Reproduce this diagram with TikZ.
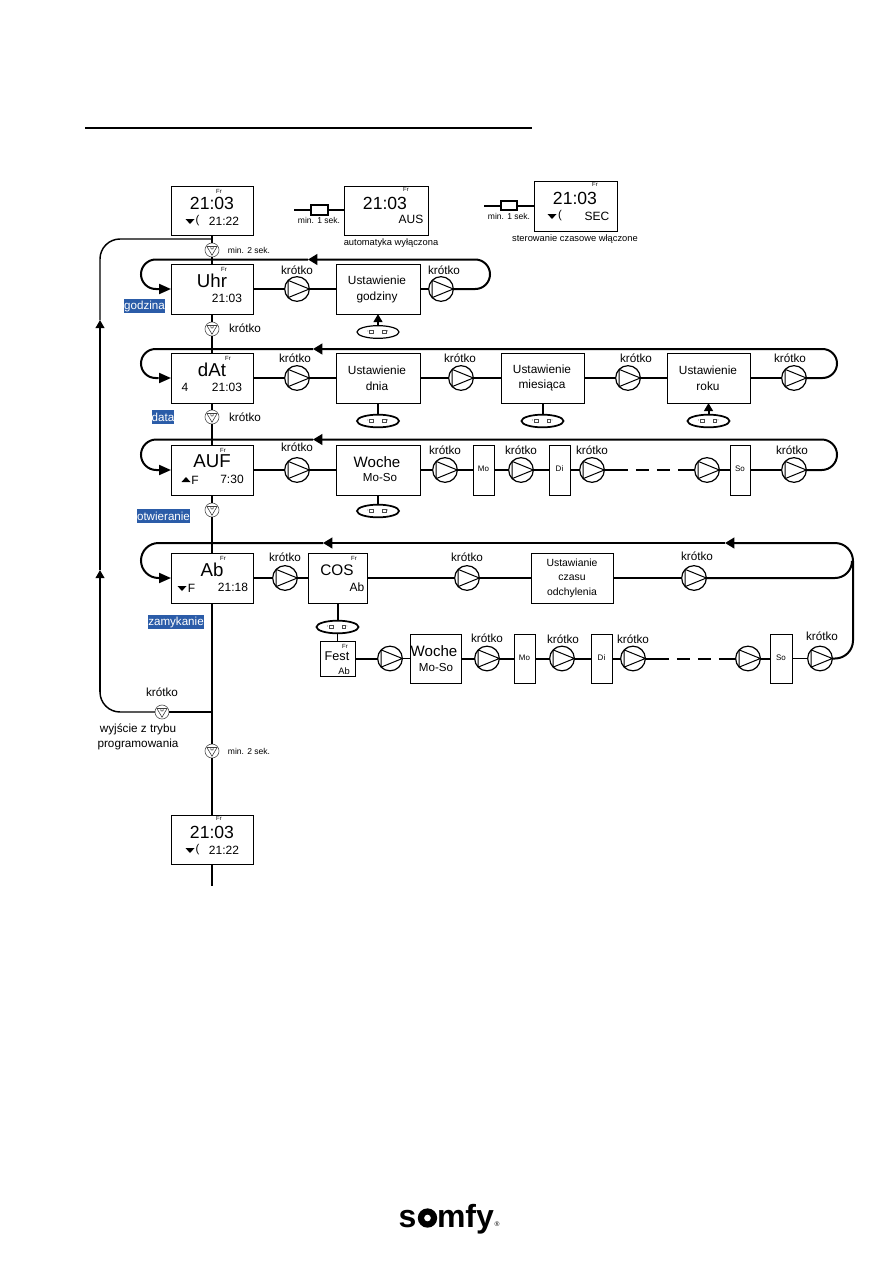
\documentclass[tikz,border=0pt]{standalone}
\usepackage{fontspec}
\setmainfont{Liberation Sans}
\usetikzlibrary{arrows.meta,shapes.geometric,calc}
\definecolor{labelblue}{HTML}{2B5CA8}
\newcounter{tn}
\newcommand{\FS}[1]{\fontsize{#1}{#1}\selectfont}
% text node with an automatic name
\newcommand{\TX}[4][]{\stepcounter{tn}\node[txt,font=\FS{#2},#1] (t\arabic{tn}) at (#3) {#4};}
% box given by its corners in reference pixels
\newcommand{\BX}[5]{%
  \pgfmathsetmacro{\bw}{(#4-#2)*0.75}\pgfmathsetmacro{\bh}{(#5-#3)*0.75}%
  \pgfmathsetmacro{\bx}{(#2+#4)/2}\pgfmathsetmacro{\by}{(#3+#5)/2}%
  \node[boxn,minimum width=\bw pt,minimum height=\bh pt] (#1) at (\bx,\by) {};}
\newcommand{\BL}[6]{%
  \pgfmathsetmacro{\bw}{(#4-#2)*0.75}\pgfmathsetmacro{\bh}{(#5-#3)*0.75}%
  \pgfmathsetmacro{\bx}{(#2+#4)/2}\pgfmathsetmacro{\by}{(#3+#5)/2}%
  \node[bluen,minimum width=\bw pt,minimum height=\bh pt] (#1) at (\bx,\by) {#6};}
% left half of a loop: from the arrow on the top line round into the box
\newcommand{\LEFTLOOP}[4]{% box, yTop, yRow, xTip
  \pgfmathsetmacro{\rr}{(#3-#2)/2*0.75}\pgfmathsetmacro{\cx}{141+(#3-#2)/2}%
  \coordinate (#1tl) at (\cx,#2);
  \coordinate (#1tip) at (#4,#2);
  \draw[wire] (#1tip) -- (#1tl) arc[start angle=90,end angle=270,radius=\rr pt] -- ++(3,0) coordinate (#1bl);
  \draw[wire,-{Triangle[length=9pt,width=7.5pt]}] (#1bl) -- (#1.west);}
% right half of a loop: from the last pump round to the arrow
\newcommand{\RIGHTLOOP}[5]{% box, pump, xExtreme, yTop, yRow
  \pgfmathsetmacro{\rr}{(#5-#4)/2*0.75}\pgfmathsetmacro{\cx}{#3-(#5-#4)/2}%
  \coordinate (#1br) at (\cx,#5);
  \draw[wire,-{Triangle[length=7pt,width=8pt]}] (#2.east) -- (#1br) arc[start angle=-90,end angle=90,radius=\rr pt] -- (#1tip);}
\tikzset{
  x=0.75pt,y=-0.75pt,
  txt/.style={inner sep=0pt,outer sep=0pt,align=center,text=black},
  wire/.style={line width=1.5pt,black},
  thin wire/.style={line width=0.85pt,black},
  dashrun/.style={line width=1.5pt,black,dash pattern=on 17.6pt off 6pt on 9.75pt off 6pt on 9.75pt off 6pt on 30pt},
  boxn/.style={draw=black,line width=0.65pt,fill=white,inner sep=0pt,outer sep=0pt},
  bluen/.style={fill=labelblue,text=white,inner sep=0pt,outer sep=0pt,font=\FS{8.7}},
  pump/.style={circle,draw=black,line width=0.9pt,fill=white,minimum size=18.5pt,inner sep=0pt,outer sep=0pt,
    path picture={
      \coordinate (pc) at (path picture bounding box.center);
      \draw[line width=0.75pt] ($(pc)+(-6.75pt,6.5pt)$) -- ($(pc)+(-6.75pt,-6.5pt)$) -- ($(pc)+(9.25pt,0pt)$) -- cycle;}},
  btn/.style={circle,draw=black!65,line width=0.5pt,fill=white,minimum size=10.5pt,inner sep=0pt,outer sep=0pt,
    path picture={
      \coordinate (pc) at (path picture bounding box.center);
      \draw[line width=0.45pt,black!75] ($(pc)+(-3.8pt,2.6pt)$) -- ($(pc)+(0pt,-3.9pt)$) -- ($(pc)+(3.8pt,2.6pt)$) -- cycle;
      \draw[line width=0.3pt,black!60] ($(pc)+(-1.3pt,2pt)$) -- ($(pc)+(-0.6pt,0.6pt)$) -- ($(pc)+(0pt,1.6pt)$) -- ($(pc)+(0.6pt,0.6pt)$) -- ($(pc)+(1.3pt,2pt)$);}},
  ell/.style={ellipse,draw=black,line width=1.3pt,fill=white,minimum width=31.5pt,minimum height=9.5pt,inner sep=0pt,outer sep=0pt,
    path picture={
      \coordinate (pc) at (path picture bounding box.center);
      \draw[line width=0.3pt,black!70] ($(pc)+(-6.5pt,-1.2pt)$) rectangle ($(pc)+(-3.6pt,1.2pt)$);
      \draw[line width=0.3pt,black!70] ($(pc)+(3.2pt,-1.2pt)$) rectangle ($(pc)+(6.1pt,1.2pt)$);
      \fill[black!70] ($(pc)+(-7.6pt,0.8pt)$) circle (0.35pt);
      \fill[black!70] ($(pc)+(7.1pt,0.8pt)$) circle (0.35pt);}},
  tipup/.style={-{Triangle[length=6pt,width=6.5pt]}}
}
\newcommand{\KR}[1]{\TX{8.8}{#1}{krótko}}
\newcommand{\DN}[1]{\fill[black] ($(#1)+(-4.5,-2)$) -- ($(#1)+(4.5,-2)$) -- ($(#1)+(0,3)$) -- cycle;}
\newcommand{\UP}[1]{\fill[black] ($(#1)+(-4.5,2)$) -- ($(#1)+(4.5,2)$) -- ($(#1)+(0,-3)$) -- cycle;}
\begin{document}
\begin{tikzpicture}
\useasboundingbox (0,0) rectangle (893,1263);
\fill[white] (0,0) rectangle (893,1263);

% heading rule
\coordinate (ruleA) at (85,128); \coordinate (ruleB) at (532,128);
\draw[line width=1.3pt] (ruleA) -- (ruleB);

% boxes
\BX{top}{171}{186}{253}{235}
\BX{aus}{344}{186}{428}{235}
\BX{sec}{534}{181}{617}{231}
\BX{uhr}{171}{264}{253}{314}
\BX{ug}{336}{264}{420}{314}
\BX{dat}{171}{353}{253}{403}
\BX{ud}{336}{353}{420}{403}
\BX{um}{501}{353}{584}{403}
\BX{ur}{667}{353}{750}{403}
\BX{auf}{171}{445}{253}{495}
\BX{wo}{336}{445}{420}{495}
\BX{mo}{473}{445}{494}{495}
\BX{di}{549}{445}{570}{495}
\BX{so}{730}{445}{750}{495}
\BX{ab}{171}{553}{253}{603}
\BX{cos}{308}{553}{367}{603}
\BX{uc}{531}{553}{613}{603}
\BX{fest}{320}{641}{355}{676}
\BX{wob}{410}{634}{461}{683}
\BX{mob}{514}{634}{535}{683}
\BX{dib}{591}{634}{612}{683}
\BX{sob}{770}{634}{792}{683}
\BX{bot}{171}{815}{253}{864}
\BX{ka}{311}{205}{328}{215}
\BX{kb}{501}{201}{517}{210}
\draw[line width=1.2pt] (ka.south west) rectangle (ka.north east);
\draw[line width=1.2pt] (kb.south west) rectangle (kb.north east);

% buttons
\node[btn] (b1) at (212,250) {};
\node[btn] (b2) at (212,329) {};
\node[btn] (b3) at (212,417) {};
\node[btn] (b4) at (212,510) {};
\node[btn] (b5) at (212,751) {};
\node[btn] (b6) at (162,712) {};

% pumps
\node[pump] (pu1) at (297,289) {};
\node[pump] (pu2) at (441,289) {};
\node[pump] (pd1) at (297,378) {};
\node[pump] (pd2) at (461,378) {};
\node[pump] (pd3) at (628,378) {};
\node[pump] (pd4) at (794,378) {};
\node[pump] (pa1) at (297,470) {};
\node[pump] (pa2) at (445,470) {};
\node[pump] (pa3) at (521,470) {};
\node[pump] (pa4) at (592,470) {};
\node[pump] (pa5) at (707,470) {};
\node[pump] (pa6) at (794,470) {};
\node[pump] (pb1) at (285,578) {};
\node[pump] (pb2) at (467,578) {};
\node[pump] (pb3) at (694,578) {};
\node[pump] (pc1) at (390,658.5) {};
\node[pump] (pc2) at (487,658.5) {};
\node[pump] (pc3) at (562,658.5) {};
\node[pump] (pc4) at (633,658.5) {};
\node[pump] (pc5) at (748,658.5) {};
\node[pump] (pc6) at (820,658.5) {};

% ellipses
\node[ell,line width=0.9pt] (e1) at (378,332) {};
\node[ell] (e2) at (378,421) {};
\node[ell] (e3) at (542.5,421) {};
\node[ell] (e4) at (708.5,421) {};
\node[ell] (e5) at (378,511) {};
\node[ell] (e6) at (337.5,627) {};

% main spine
\coordinate (spineEnd) at (212,886);
\coordinate (outerTop) at (212,239);
\coordinate (outerBot) at (212,712);
\draw[wire,line width=1.3pt] (top.south) -- (b1);
\draw[wire,line width=1.3pt] (b1) -- (uhr.north);
\draw[wire,line width=1.3pt] (uhr.south) -- (b2);
\draw[wire,line width=1.3pt] (b2) -- (dat.north);
\draw[wire,line width=1.3pt] (dat.south) -- (b3);
\draw[wire,line width=1.3pt] (b3) -- (auf.north);
\draw[wire,line width=1.3pt] (auf.south) -- (b4);
\draw[wire,line width=1.3pt] (b4) -- (ab.north);
\draw[wire,line width=1.3pt] (ab.south) -- (b5);
\draw[wire,line width=1.3pt] (b5) -- (bot.north);
\draw[wire] (bot.south) -- (spineEnd);

% outer return loop
\coordinate (ol1) at (120,712);
\coordinate (ol2) at (100,692);
\coordinate (oa1) at (100,570);
\coordinate (oa2) at (100,320);
\coordinate (ol3) at (100,259);
\coordinate (ol4) at (120,239);
\draw[thin wire,line width=1.1pt] (outerBot) -- (b6);
\draw[thin wire,line width=1.1pt] (b6) -- (ol1) arc[start angle=270,end angle=180,radius=15pt] -- (ol2);
\draw[thin wire,line width=1.1pt,tipup] (ol2) -- (oa1);
\draw[thin wire,line width=1.1pt,tipup] (oa1) -- (oa2);
\draw[thin wire,line width=1.1pt] (oa2) -- (ol3) arc[start angle=180,end angle=90,radius=15pt] -- (outerTop);

% top key strips
\coordinate (s1) at (294,210); \coordinate (s2) at (484,205.5);
\draw[thin wire] (s1) -- (ka.west);
\draw[thin wire] (ka.east) -- (aus.west |- ka.east);
\draw[wire] (s2) -- (kb.west);
\draw[wire] (kb.east) -- (sec.west |- kb.east);

% godzina row
\LEFTLOOP{uhr}{259.5}{289}{308}
\draw[wire] (uhr.east) -- (pu1); \draw[wire] (pu1) -- (ug.west);
\draw[wire] (ug.east) -- (pu2);
\RIGHTLOOP{uhr}{pu2}{490}{259.5}{289}
\draw[wire,tipup] (e1) -- (ug.south);

% data row
\LEFTLOOP{dat}{349}{378}{313}
\draw[wire] (dat.east) -- (pd1); \draw[wire] (pd1) -- (ud.west);
\draw[wire] (ud.east) -- (pd2); \draw[wire] (pd2) -- (um.west);
\draw[wire] (um.east) -- (pd3); \draw[wire] (pd3) -- (ur.west);
\draw[wire] (ur.east) -- (pd4);
\RIGHTLOOP{dat}{pd4}{837}{349}{378}
\draw[wire] (e2) -- (ud.south);
\draw[wire] (e3) -- (um.south);
\draw[wire,tipup] (e4) -- (ur.south);

% otwieranie row
\LEFTLOOP{auf}{439.5}{470}{313}
\draw[wire] (auf.east) -- (pa1); \draw[wire] (pa1) -- (wo.west);
\draw[wire] (wo.east) -- (pa2); \draw[wire] (pa2) -- (mo.west);
\draw[wire] (mo.east) -- (pa3); \draw[wire] (pa3) -- (di.west);
\draw[wire] (di.east) -- (pa4);
\draw[dashrun] (pa4.east) -- (pa5.west);
\draw[wire] (pa5) -- (so.west);
\draw[thin wire] (so.east) -- (pa6);
\RIGHTLOOP{auf}{pa6}{837}{439.5}{470}
\draw[wire] (e5) -- (wo.south);

% zamykanie row
\LEFTLOOP{ab}{543}{578}{323}
\coordinate (abtipB) at (725,543);
\coordinate (abrA) at (835,578);
\coordinate (abrB) at (853,561);
\coordinate (abrD) at (835,658.5);
\draw[wire] (ab.east) -- (pb1); \draw[wire] (pb1) -- (cos.west);
\draw[wire] (cos.east) -- (pb2); \draw[wire] (pb2) -- (uc.west);
\draw[wire] (uc.east) -- (pb3); \draw[wire] (pb3) -- (abrA) arc[start angle=-90,end angle=0,radius=12.75pt];
\draw[wire,-{Triangle[length=7pt,width=8pt]}] (abrB) arc[start angle=0,end angle=90,radius=13.5pt] -- (abtipB);
\draw[wire,-{Triangle[length=7pt,width=8pt]}] (abtipB) -- (abtip);
\draw[wire] (cos.south) -- (e6);
\draw[wire,line width=0.9pt] (e6) -- (fest.north);
\draw[wire] (fest.east) -- (pc1); \draw[thin wire] (pc1) -- (wob.west);
\draw[wire] (wob.east) -- (pc2); \draw[wire] (pc2) -- (mob.west);
\draw[wire] (mob.east) -- (pc3); \draw[wire] (pc3) -- (dib.west);
\draw[wire] (dib.east) -- (pc4);
\draw[dashrun] (pc4.east) -- (pc5.west);
\draw[wire] (pc5) -- (sob.west);
\draw[thin wire] (sob.east) -- (pc6);
\draw[wire] (pc6.east) -- (abrD) arc[start angle=-90,end angle=0,radius=13.5pt] -- (abrB);

% display texts
\TX{4.5}{219,191}{Fr}
\TX{13.2}{212,203}{21:03}
\DN{190,221}
\TX{8.5}{197.5,221}{(}
\TX{9}{224,221}{21:22}
\TX{4.5}{406,189}{Fr}
\TX{13.2}{385,203}{21:03}
\TX{9}{411,219}{AUS}
\TX{4.5}{595,184}{Fr}
\TX{13.2}{575,198}{21:03}
\DN{552,216}
\TX{8.5}{560,216}{(}
\TX{9}{597,216}{SEC}
\TX{6.4}{319,220}{min. 1 sek.}
\TX{6.4}{509,216}{min. 1 sek.}
\TX{7}{391,243}{automatyka wyłączona}
\TX{7}{575,239}{sterowanie czasowe włączone}
\TX{6.4}{249,250}{min. 2 sek.}
\TX{6.4}{249,751}{min. 2 sek.}

\TX{4.5}{224,269}{Fr}
\TX{14}{212,281}{Uhr}
\TX{9}{227,298}{21:03}
\TX{4.5}{228,358}{Fr}
\TX{14}{212,370}{dAt}
\TX{9}{185,387}{4}
\TX{9}{227,387}{21:03}
\TX{4.5}{223,450}{Fr}
\TX{14}{212,461}{AUF}
\UP{186,480}
\TX{9}{195,480}{F}
\TX{9}{232,479}{7:30}
\TX{4.5}{223,558}{Fr}
\TX{14}{212,570}{Ab}
\DN{182,588}
\TX{9}{191.5,588}{F}
\TX{9}{233,587}{21:18}
\TX{4.5}{354,558}{Fr}
\TX{11.5}{337,570}{COS}
\TX{9}{357,587}{Ab}
\TX{4.5}{345,646}{Fr}
\TX{9.5}{337,656}{Fest}
\TX{7}{344,671}{Ab}
\TX{4.5}{219,818.5}{Fr}
\TX{13.2}{212,832}{21:03}
\DN{190,850}
\TX{8.5}{197.5,850}{(}
\TX{9}{224,850}{21:22}

% box labels
\TX{8.9}{377,289}{Ustawienie\\[3pt]godziny}
\TX{8.9}{377,378}{Ustawienie\\[3pt]dnia}
\TX{8.9}{542,378}{Ustawienie\\[3pt]miesiąca}
\TX{8.9}{708,378}{Ustawienie\\[3pt]roku}
\TX{11.3}{377,462}{Woche}
\TX{8.7}{380,478}{Mo-So}
\TX{11.3}{434,651}{Woche}
\TX{8.7}{436,667}{Mo-So}
\TX{7.8}{572,578}{Ustawianie\\[3pt]czasu\\[3pt]odchylenia}
\TX{6}{483.5,469}{Mo}
\TX{6}{559.5,469}{Di}
\TX{6}{740,469}{So}
\TX{6}{524.5,658}{Mo}
\TX{6}{601.5,658}{Di}
\TX{6}{781,658}{So}

% krotko labels
\KR{297,270}\KR{444,270}\KR{245,328}
\KR{295,358}\KR{460,358}\KR{636,358}\KR{790,358}
\KR{245,417}\KR{297,447}\KR{445,450}\KR{521,450}\KR{592,450}\KR{792,450}
\KR{285,557}\KR{467,557}\KR{697,556}
\KR{487,638}\KR{563,639}\KR{633,639}\KR{822,636}
\KR{162,692}
\TX{8.8}{138,737}{wyjście z trybu\\[3pt]programowania}

% blue labels
\BL{lg}{124}{299}{165}{313}{godzina}
\BL{ld}{152}{410}{174}{424}{data}
\BL{lo}{137}{509}{190}{523}{otwieranie}
\BL{lz}{148}{615}{204}{629}{zamykanie}

% logo
\node[txt,font=\FS{24}\bfseries,anchor=base west] (logoS) at (398.5,1227) {s};
\node[circle,fill=black,minimum size=14.5pt,inner sep=0pt] (logoO) at (427.5,1218) {};
\node[circle,fill=white,minimum size=5pt,inner sep=0pt] (logoI) at (logoO) {};
\node[txt,font=\FS{24}\bfseries,anchor=base west] (logoM) at (437,1227) {mfy};
\node[txt,font=\FS{5}] (logoR) at (497,1224) {®};
\end{tikzpicture}
\end{document}
